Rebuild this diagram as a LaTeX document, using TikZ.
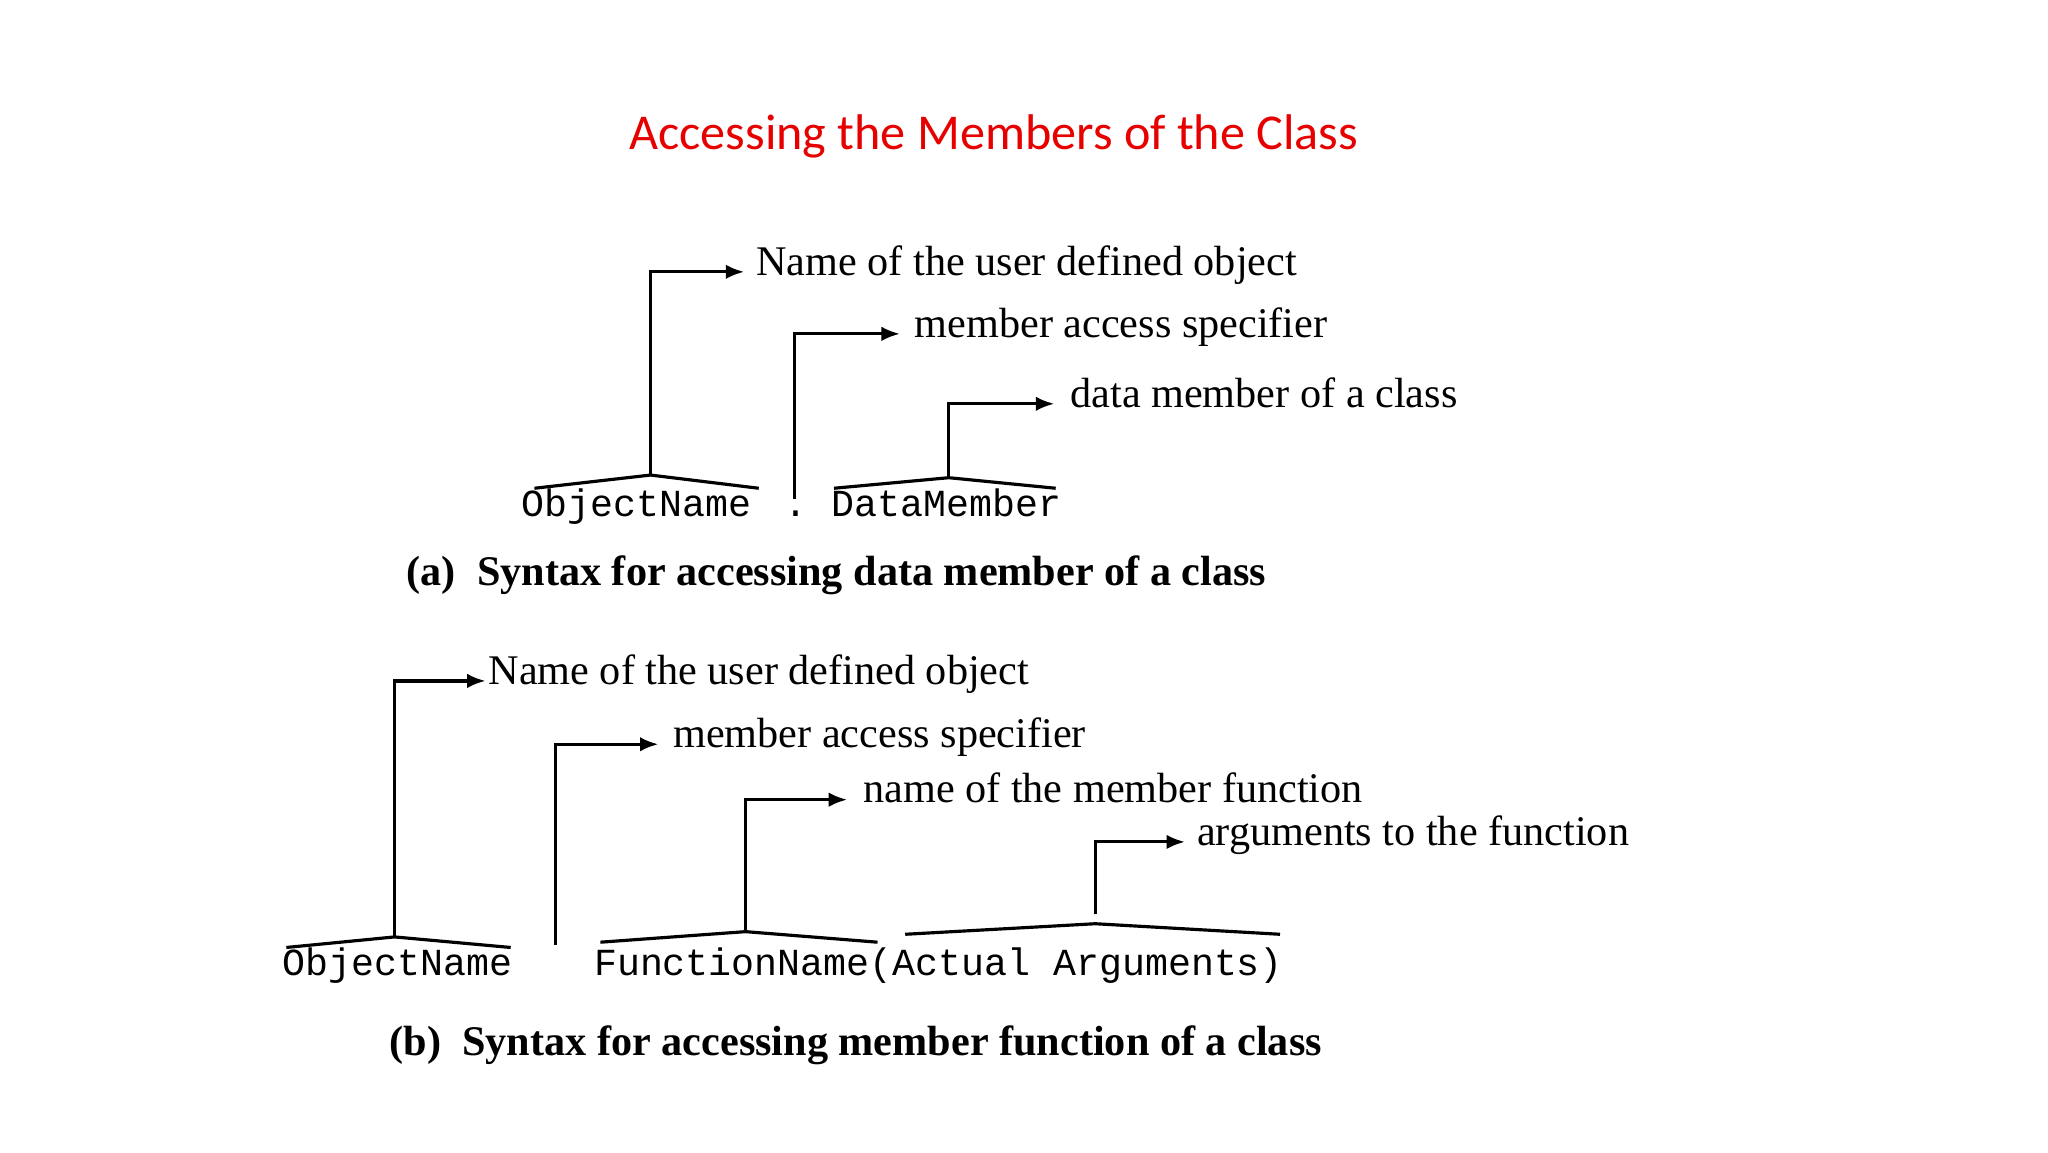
\documentclass[tikz,border=0pt]{standalone}
\usepackage{fontspec}
\setmainfont{Liberation Serif}
\newfontfamily\titlefont{Carlito}
\newfontfamily\monofont{Liberation Mono}
\usetikzlibrary{arrows.meta}
\definecolor{titlered}{RGB}{230,0,0}
\begin{document}
\begin{tikzpicture}[x=1pt,y=-1pt,
  fix/.style={text height=0.7em,text depth=0.2em},
  lbl/.style={anchor=west,inner sep=0pt,fix,font=\fontsize{32}{34}\selectfont},
  code/.style={anchor=west,inner sep=0pt,fix,font=\monofont\fontsize{29}{30}\selectfont},
  captext/.style={anchor=west,inner sep=0pt,fix,font=\bfseries\fontsize{32}{34}\selectfont},
  ln/.style={line width=2.4pt},
  arr/.style={line width=2.4pt,-{Latex[length=14pt,width=11pt]}}]
\useasboundingbox (0,0) rectangle (1552,873);
\node[inner sep=0pt,text=titlered,font=\titlefont\fontsize{38}{40}\selectfont] (title) at (753,103) {Accessing the Members of the Class};
% (a)
\node[lbl] (a1) at (573,206) {Name of the user defined object};
\node[lbl] (a2) at (693,253) {member access specifier};
\node[lbl] (a3) at (811,306) {data member of a class};
\node[code] (aobj) at (395,389) {ObjectName};
\node[code] (adot) at (594,389) {.};
\node[code] (adm) at (630,389) {DataMember};
\node[captext] (capa) at (308,441) {(a)\ \ Syntax for accessing data member of a class};
\coordinate (ap1) at (493,360); \coordinate (ap2) at (602,378); \coordinate (ap3) at (719,362);
\draw[ln] (405,370) -- (ap1) -- (575,370);
\draw[arr] (ap1) |- ([xshift=-9pt]a1.west);
\draw[arr] (ap2) |- ([xshift=-11pt]a2.west);
\draw[ln] (632,370) -- (ap3) -- (800,370);
\draw[arr] (ap3) |- ([xshift=-12pt]a3.west);
% (b)
\node[lbl] (b1) at (370,516) {Name of the user defined object};
\node[lbl] (b2) at (510,564) {member access specifier};
\node[lbl] (b3) at (654,606) {name of the member function};
\node[lbl] (b4) at (907,638) {arguments to the function};
\node[code] (bobj) at (214,737) {ObjectName};
\node[code] (bfn) at (450,737) {FunctionName(Actual Arguments)};
\node[captext] (capb) at (295,797) {(b)\ \ Syntax for accessing member function of a class};
\coordinate (bp1) at (299,710); \coordinate (bp2) at (421,716); \coordinate (bp3) at (565,706); \coordinate (bp4) at (830,693);
\draw[ln] (217,718) -- (bp1) -- (387,718);
\draw[arr] (bp1) |- ([xshift=-2pt]b1.west);
\draw[arr] (bp2) |- ([xshift=-11pt]b2.west);
\draw[ln] (455,714) -- (bp3) -- (665,714);
\draw[arr] (bp3) |- ([xshift=-12pt]b3.west);
\draw[ln] (686,708) -- (830,700) -- (970,708);
\draw[arr] (bp4) |- ([xshift=-9pt]b4.west);
\end{tikzpicture}
\end{document}
